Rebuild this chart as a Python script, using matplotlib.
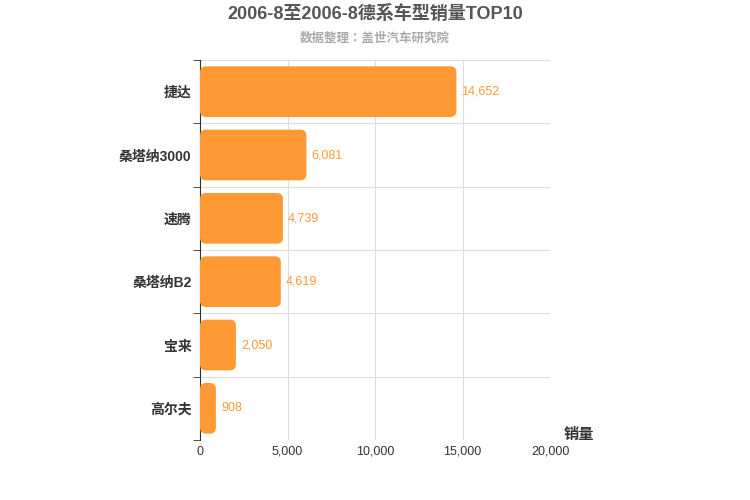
import matplotlib
matplotlib.use("Agg")
import matplotlib.pyplot as plt
from matplotlib.patches import FancyBboxPatch

plt.rcParams["font.family"] = ["Liberation Sans", "Noto Sans CJK JP", "Noto Sans CJK SC",
                               "Noto Sans CJK TC", "Noto Sans CJK KR", "DejaVu Sans"]

categories = ["捷达", "桑塔纳3000", "速腾", "桑塔纳B2", "宝来", "高尔夫"]
values = [14652, 6081, 4739, 4619, 2050, 908]
xticks = [0, 5000, 10000, 15000, 20000]

fig = plt.figure(figsize=(7.5, 5), dpi=100)
ax = fig.add_axes([200/750, 60/500, 350/750, 380/500])
n = len(categories)
ax.set_xlim(0, 20000)
ax.set_ylim(-0.5, n - 0.5)
ax.invert_yaxis()

xpp = 20000 / 350
ypp = n / 380
h = 0.8
for i, v in enumerate(values):
    p = FancyBboxPatch((0, i - h/2), v, h,
                       boxstyle="round,pad=0,rounding_size=%f" % (6 * xpp),
                       mutation_aspect=ypp / xpp,
                       facecolor="#FF9933", edgecolor="none", zorder=3)
    ax.add_patch(p)
    ax.text(v + 5 * xpp, i, f"{v:,}", va="center", ha="left",
            color="#FF9933", fontsize=9, zorder=4)

ax.set_xticks(xticks)
ax.set_xticklabels([f"{t:,}" for t in xticks], fontsize=9, color="#333")
ax.set_yticks(range(n))
ax.set_yticklabels(categories, fontsize=10, fontweight="bold", color="#333")
ax.set_yticks([i - 0.5 for i in range(n + 1)], minor=True)
ax.tick_params(axis="y", which="major", length=0, pad=6)
ax.tick_params(axis="y", which="minor", length=5, color="#333")
ax.tick_params(axis="x", length=0, pad=4)
ax.grid(axis="x", color="#ddd", lw=0.8, zorder=0)
ax.grid(axis="y", which="minor", color="#ddd", lw=0.8, zorder=0)
for s in ["top", "right", "bottom"]:
    ax.spines[s].set_visible(False)
ax.spines["left"].set_color("#333")

ax.text(1.04, -0.005, "销量", transform=ax.transAxes, fontsize=11,
        fontweight="bold", color="#333", ha="left", va="bottom")
fig.text(375/750, 1 - 14/500, "2006-8至2006-8德系车型销量TOP10", ha="center",
         va="center", fontsize=13, fontweight="bold", color="#555")
fig.text(375/750, 1 - 39/500, "数据整理：盖世汽车研究院", ha="center",
         va="center", fontsize=9, fontweight="bold", color="#aaa")
fig.savefig("out.png")
